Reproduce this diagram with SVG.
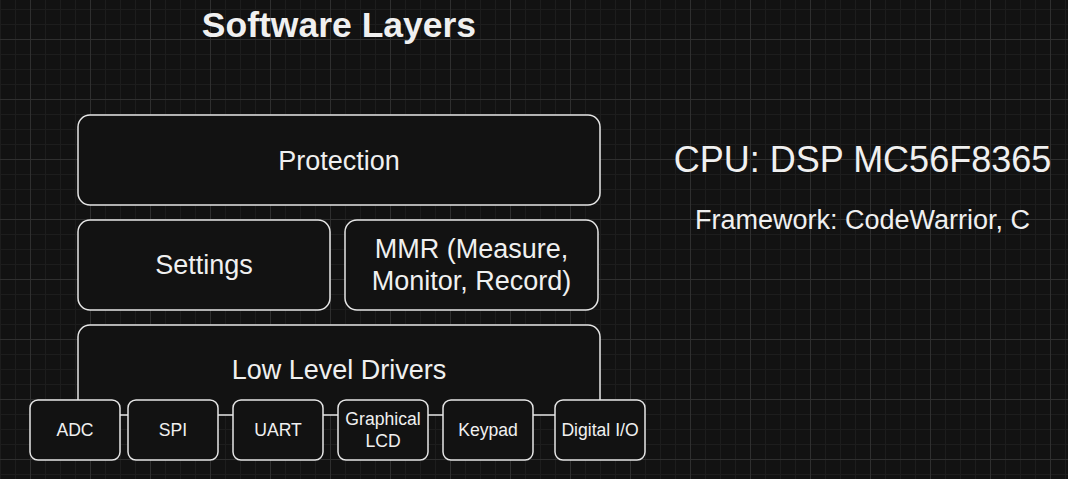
<svg xmlns="http://www.w3.org/2000/svg" width="1068" height="479" viewBox="0 0 1068 479">
<style>
.box{fill:#121212;stroke:#e6e6e6;stroke-width:1.5}
.t{font-family:"Liberation Sans",Arial,sans-serif;fill:#f0f0f0;text-anchor:middle}
.big{font-size:27px}
.sm{font-size:17.6px}
</style>
<defs>
<pattern id="minor" x="0" y="9" width="15" height="15" patternUnits="userSpaceOnUse">
<path d="M0.5 0V15M0 0.5H15" stroke="#1d1d1d" stroke-width="1" fill="none"/>
</pattern>
<pattern id="major" x="30" y="39" width="60" height="60" patternUnits="userSpaceOnUse">
<path d="M0.5 0V60M0 0.5H60" stroke="#2f2f2f" stroke-width="1" fill="none"/>
</pattern>
</defs>
<rect width="1068" height="479" fill="#121212"/>
<rect width="1068" height="479" fill="url(#minor)"/>
<rect width="1068" height="479" fill="url(#major)"/>

<text class="t" x="339" y="36.5" style="font-size:35.5px;font-weight:bold">Software Layers</text>

<g id="protection">
<rect class="box" x="78" y="115" width="522" height="90" rx="12"/>
<text class="t big" x="339" y="169.5">Protection</text>
</g>
<g id="settings">
<rect class="box" x="78" y="220" width="252" height="90" rx="12"/>
<text class="t big" x="204" y="273.5">Settings</text>
</g>
<g id="mmr">
<rect class="box" x="345" y="220" width="253" height="90" rx="12"/>
<text class="t big" x="471.5" y="257.5">MMR (Measure,</text>
<text class="t big" x="471.5" y="290">Monitor, Record)</text>
</g>
<g id="lld">
<rect class="box" x="78" y="325" width="522" height="90" rx="12"/>
<text class="t big" x="339" y="379">Low Level Drivers</text>
</g>
<g id="connectors"></g>
<g id="adc">
<rect class="box" x="30" y="400" width="90" height="60" rx="8"/>
<text class="t sm" x="75" y="436">ADC</text>
</g>
<g id="spi">
<rect class="box" x="128" y="400" width="90" height="60" rx="8"/>
<text class="t sm" x="173" y="436">SPI</text>
</g>
<g id="uart">
<rect class="box" x="233" y="400" width="90" height="60" rx="8"/>
<text class="t sm" x="278" y="436">UART</text>
</g>
<g id="lcd">
<rect class="box" x="338" y="400" width="90" height="60" rx="8"/>
<text class="t sm" x="383" y="425">Graphical</text>
<text class="t sm" x="383" y="446.5">LCD</text>
</g>
<g id="keypad">
<rect class="box" x="443" y="400" width="90" height="60" rx="8"/>
<text class="t sm" x="488" y="436">Keypad</text>
</g>
<g id="dio">
<rect class="box" x="555" y="400" width="90" height="60" rx="8"/>
<text class="t sm" x="600" y="436">Digital I/O</text>
</g>

<g id="cpu">
<text class="t" x="862.5" y="171.5" style="font-size:36px">CPU: DSP MC56F8365</text>
</g>
<g id="framework">
<text class="t" x="862.5" y="228.5" style="font-size:27px">Framework: CodeWarrior, C</text>
</g>
</svg>
